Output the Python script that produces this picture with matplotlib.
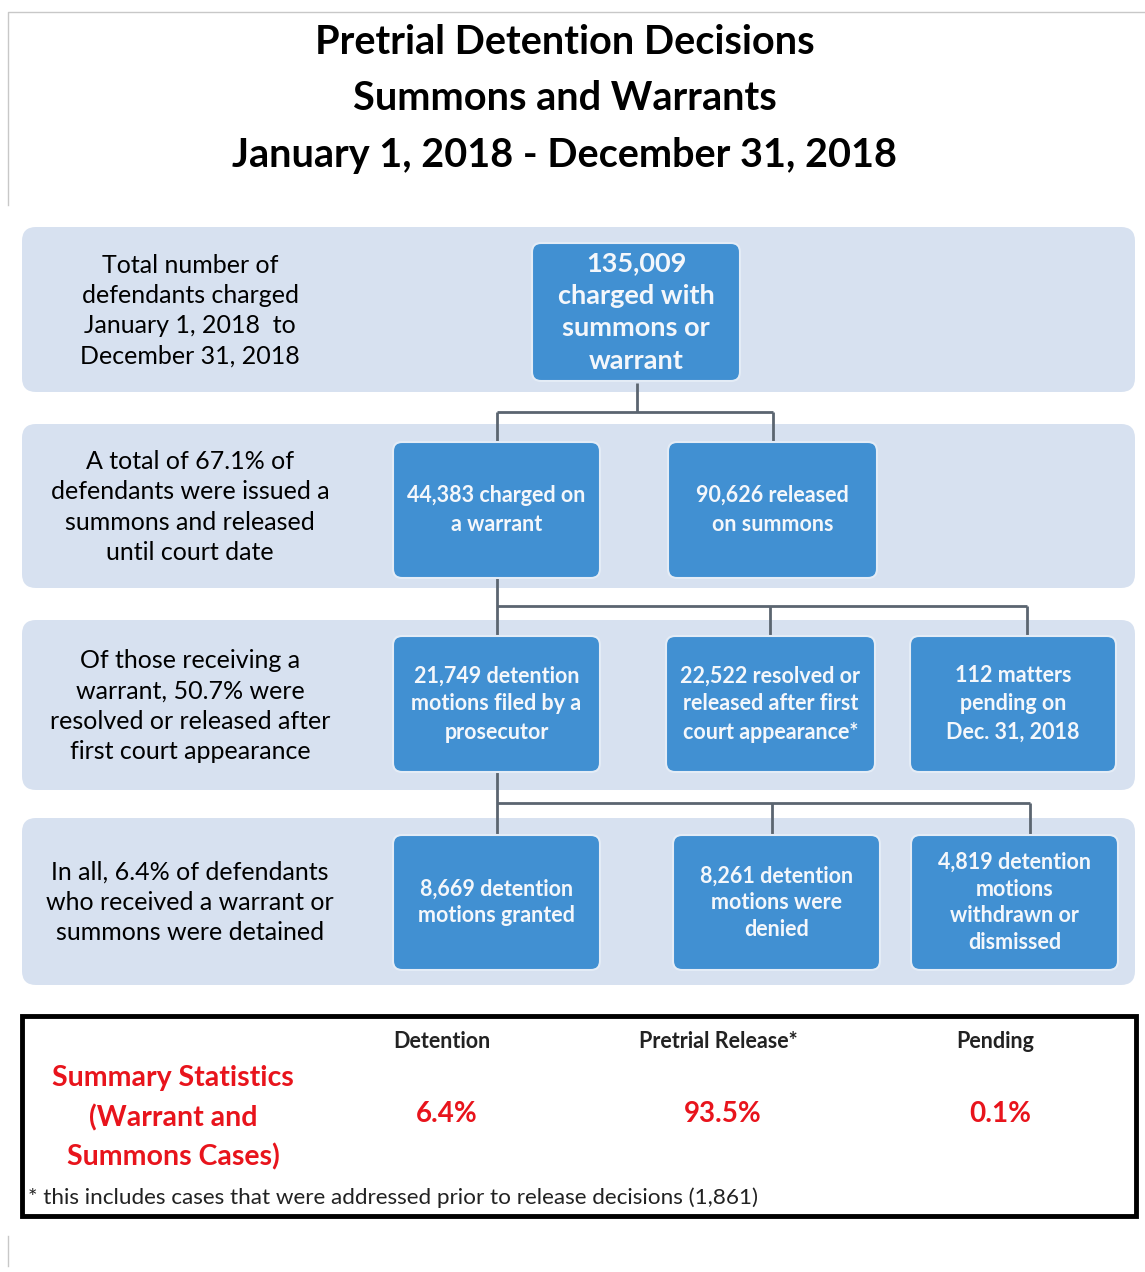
import matplotlib.pyplot as plt
from matplotlib.patches import FancyBboxPatch, Rectangle

plt.rcParams['font.family'] = ['Lato', 'DejaVu Sans']

title_lines = ["Pretrial Detention Decisions", "Summons and Warrants",
               "January 1, 2018 - December 31, 2018"]

row_labels = [
    "Total number of\ndefendants charged\nJanuary 1, 2018  to\nDecember 31, 2018",
    "A total of 67.1% of\ndefendants were issued a\nsummons and released\nuntil court date",
    "Of those receiving a\nwarrant, 50.7% were\nresolved or released after\nfirst court appearance",
    "In all, 6.4% of defendants\nwho received a warrant or\nsummons were detained",
]

top_box = "135,009\ncharged with\nsummons or\nwarrant"
row2_boxes = ["44,383 charged on\na warrant", "90,626 released\non summons"]
row3_boxes = ["21,749 detention\nmotions filed by a\nprosecutor",
              "22,522 resolved or\nreleased after first\ncourt appearance*",
              "112 matters\npending on\nDec. 31, 2018"]
row4_boxes = ["8,669 detention\nmotions granted",
              "8,261 detention\nmotions were\ndenied",
              "4,819 detention\nmotions\nwithdrawn or\ndismissed"]

summary_title = "Summary Statistics\n(Warrant and\nSummons Cases)"
summary_headers = ["Detention", "Pretrial Release*", "Pending"]
summary_values = ["6.4%", "93.5%", "0.1%"]
footnote = "* this includes cases that were addressed prior to release decisions (1,861)"

BAND = "#d7e1f0"
BOX = "#4190d2"
LINE = "#5b6570"
RED = "#e8141c"

fig = plt.figure(figsize=(11.45, 12.72), dpi=100)
ax = fig.add_axes([0, 0, 1, 1])
ax.set_xlim(0, 1145)
ax.set_ylim(1272, 0)
ax.axis("off")


def rbox(x0, y0, x1, y1, color, r=10, ec="none", lw=0, z=1):
    p = FancyBboxPatch((x0 + r, y0 + r), x1 - x0 - 2 * r, y1 - y0 - 2 * r,
                       boxstyle=f"round,pad={r}", fc=color, ec=ec, lw=lw,
                       zorder=z)
    ax.add_patch(p)


# title frame
ax.plot([8, 8, 1145], [205, 12, 12], color="#c8c8c8", lw=1)
ax.plot([8, 8], [1236, 1266], color="#c8c8c8", lw=1)
for i, t in enumerate(title_lines):
    ax.text(565, 43 + i * 56, t, ha="center", va="center", fontsize=28.5,
            fontweight="bold", color="black")

# bands
bands = [(227, 392), (424, 588), (620, 790), (818, 985)]
for (y0, y1), lab in zip(bands, row_labels):
    rbox(22, y0, 1135, y1, BAND, r=14)
    ax.text(190, (y0 + y1) / 2 + 1, lab, ha="center", va="center",
            fontsize=18, color="black", linespacing=1.38)

# connectors
segs = [
    ([637, 637], [383, 412]), ([497, 773], [412, 412]),
    ([497, 497], [412, 442]), ([773, 773], [412, 442]),
    ([497, 497], [578, 835]), ([497, 1027], [606, 606]),
    ([770, 770], [606, 636]), ([1027, 1027], [606, 638]),
    ([497, 1030], [803, 803]), ([772, 772], [803, 835]),
    ([1030, 1030], [803, 835]),
]
for xs, ys in segs:
    ax.plot(xs, ys, color=LINE, lw=2, zorder=2, solid_capstyle="butt")


def node(x0, y0, x1, y1, txt, fs=15.5, ls=1.6):
    rbox(x0, y0, x1, y1, BOX, r=9, ec="#e4ecf6", lw=1.5, z=3)
    ax.text((x0 + x1) / 2, (y0 + y1) / 2, txt, ha="center", va="center",
            fontsize=fs, color="#f4f7fb", fontweight="bold",
            linespacing=ls, zorder=4)


node(532, 243, 740, 381, top_box, fs=19.5, ls=1.42)
for (x0, x1), t in zip([(393, 600), (668, 877)], row2_boxes):
    node(x0, 442, x1, 578, t, ls=1.5)
for (x0, x1), t in zip([(393, 600), (666, 875), (910, 1116)], row3_boxes):
    node(x0, 636, x1, 772, t, ls=1.42)
for (x0, x1), t in zip([(393, 600), (673, 880), (911, 1118)], row4_boxes):
    node(x0, 835, x1, 970, t, ls=1.33)

# summary box
ax.add_patch(Rectangle((22, 1016), 1114, 200, fc="white", ec="black", lw=3.5,
                       zorder=1))
ax.text(173, 1118, summary_title, ha="center", va="center", fontsize=20.5,
        fontweight="bold", color=RED, linespacing=1.56)
for x, h, v in zip([442, 718, 995], summary_headers, summary_values):
    ax.text(x, 1042, h, ha="center", va="center", fontsize=15.5,
            fontweight="bold", color="#222222")
    ax.text(x + 5, 1114, v, ha="center", va="center", fontsize=20,
            fontweight="bold", color=RED)
ax.text(28, 1198, footnote, ha="left", va="center", fontsize=16.2,
        color="#222222")

fig.savefig("out.png", dpi=100, facecolor="white")
